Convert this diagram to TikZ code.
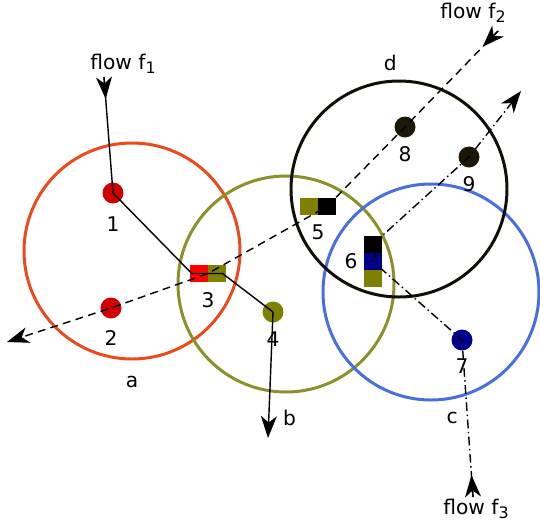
\documentclass[tikz,border=0pt]{standalone}
\usepackage{fontspec}
\setmainfont{DejaVu Sans}
\usetikzlibrary{positioning,calc,arrows.meta}

\definecolor{cola}{RGB}{234,74,28}
\definecolor{colb}{RGB}{138,145,42}
\definecolor{colc}{RGB}{74,110,222}
\definecolor{cold}{RGB}{18,14,8}
\definecolor{dotred}{RGB}{208,0,0}
\definecolor{olv}{RGB}{128,128,0}
\definecolor{nvy}{RGB}{0,0,140}
\definecolor{drk}{RGB}{28,24,8}

\newcommand\flowsub[1]{\raisebox{-0.4ex}{\fontsize{9}{9}\selectfont #1}}

\begin{document}
\begin{tikzpicture}[x=0.2mm, y=-0.2mm,
  range/.style={circle, draw=#1, line width=1.7pt, minimum size=43.2mm, inner sep=0pt},
  dot/.style={circle, fill=#1, minimum size=4.2mm, inner sep=0pt},
  sq/.style={rectangle, fill=#1, minimum width=3.6mm, minimum height=3.4mm, inner sep=0pt, outer sep=0pt},
  lbl/.style={inner sep=0pt, font=\fontsize{11.5}{13}\selectfont},
  flowtip/.style={-{Stealth[length=4.4mm, width=3.2mm, inset=1.3mm]}},
  fone/.style={line width=0.8pt},
  ftwo/.style={line width=0.8pt, dash pattern=on 4.5pt off 3pt},
  fthree/.style={line width=0.8pt, dash pattern=on 5pt off 2pt on 0.8pt off 2pt}
]
\useasboundingbox (0,0) rectangle (540,527);

\node[range=cola] (ra) at (132,251) {};
\node[range=colb] (rb) at (286,284) {};
\node[range=colc] (rc) at (431,292) {};
\node[range=cold] (rd) at (399,189) {};
\node[lbl, below=9pt of ra] {a};
\node[lbl, below=9pt of rb, xshift=2pt] {b};
\node[lbl, below=6pt of rc, xshift=12pt] {c};
\node[lbl, above=5pt of rd, xshift=-5pt] {d};

\node[dot=dotred, label={[lbl, label distance=7pt]below:1}] (n1) at (113,193) {};
\node[dot=dotred, label={[lbl, label distance=6.6pt]below:2}] (n2) at (111,308) {};
\node[dot=olv, label={[lbl, label distance=5pt]below:4}] (n4) at (273,312) {};
\node[dot=nvy, label={[lbl, label distance=4.5pt]below:7}] (n7) at (462,340) {};
\node[dot=drk, label={[lbl, label distance=5pt]below:8}] (n8) at (405,127) {};
\node[dot=drk, label={[lbl, label distance=4.5pt]below:9}] (n9) at (469,157) {};

\node[sq=red] (n3a) at (199,273.5) {};
\node[sq=olv, right=0pt of n3a] (n3b) {};
\node[lbl, below=6pt of n3a.south east] {3};
\node[sq=olv] (n5a) at (309,206.5) {};
\node[sq=black, right=0pt of n5a] (n5b) {};
\node[lbl, below=5.5pt of n5a.south east] {5};
\node[sq=black] (n6a) at (373,244.5) {};
\node[sq=nvy, below=0pt of n6a] (n6b) {};
\node[sq=olv, below=0pt of n6b] (n6c) {};
\node[lbl, left=3.5pt of n6b] {6};

\coordinate (f1s) at (104,77);
\coordinate (f1e) at (268,438);
\coordinate (f2s) at (498,31);
\coordinate (f2e) at (7,342);
\coordinate (f3s) at (473,497);
\coordinate (f3e) at (521,91);
\node[lbl] (lf1) at (123,64) {flow f\flowsub{1}};
\node[lbl] (lf2) at (473,13) {flow f\flowsub{2}};
\node[lbl] (lf3) at (476,509) {flow f\flowsub{3}};

\draw[fone, flowtip] (f1s) -- ($(f1s)!4.4mm!(n1.center)$);
\draw[fone] (f1s) -- (n1.center) -- ([xshift=1pt]n3a.west) -- ([xshift=-2pt]n3b.east) -- (n4.center);
\draw[fone, flowtip] (n4.center) -- (f1e);

\draw[fone, flowtip] (f2s) -- ($(f2s)!4.4mm!(n8.center)$);
\draw[ftwo, flowtip] (f2s) -- (n8.center) -- (n5b.center) -- (n3a.east) -- (n2.center) -- (f2e);

\draw[fone, flowtip] (f3s) -- ($(f3s)!4.4mm!(n7.center)$);
\draw[fthree, flowtip] (f3s) -- (n7.center) -- (n6b.center) -- (n6a.north east) -- (n9.center) -- (f3e);
\end{tikzpicture}
\end{document}
